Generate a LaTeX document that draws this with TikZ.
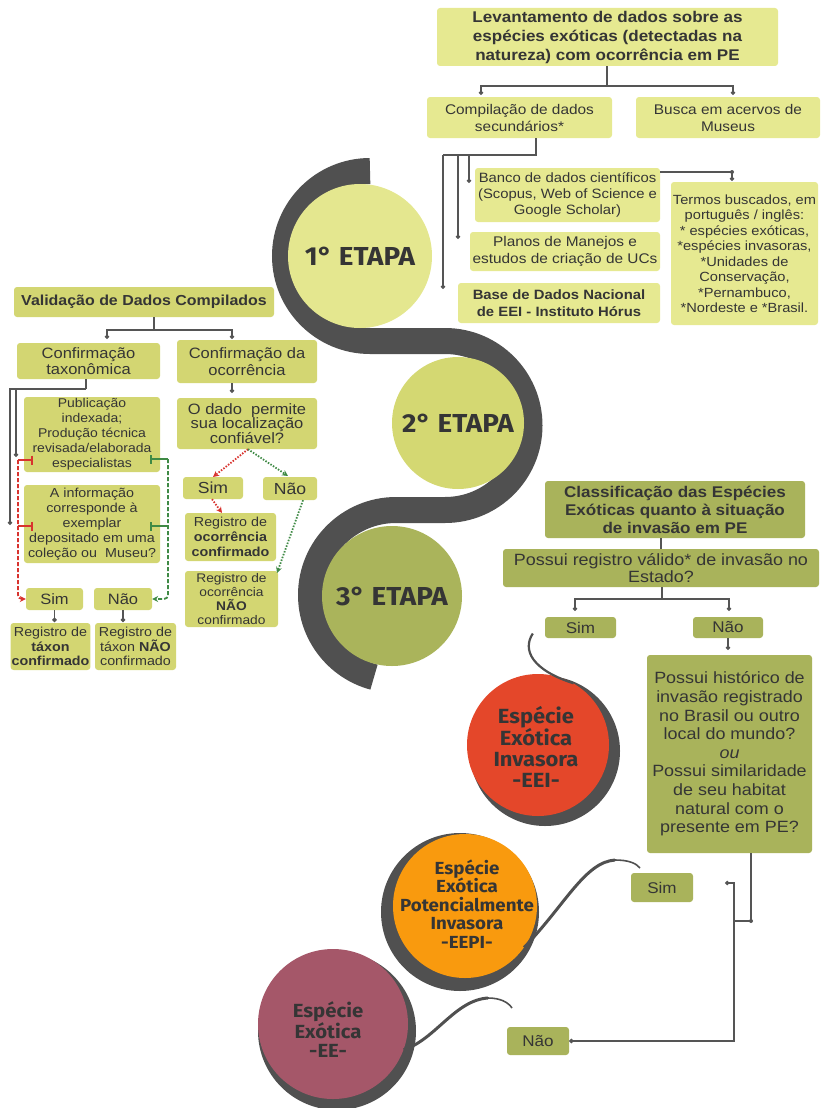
\documentclass[tikz,border=0pt]{standalone}
\usepackage{fontspec}
\setmainfont{Liberation Sans}[FakeStretch=1.1]
\newfontfamily\circfont{Fira Sans}[FakeStretch=1.07]
\usetikzlibrary{arrows.meta,calc}
\definecolor{cTop}{HTML}{E6E991}
\definecolor{cLeft}{HTML}{D3D672}
\definecolor{cRight}{HTML}{A9B35B}
\definecolor{bandc}{HTML}{505050}
\definecolor{txt}{HTML}{353535}
\definecolor{lnc}{HTML}{555555}
\definecolor{cred}{HTML}{D8332E}
\definecolor{cgreen}{HTML}{3F8A45}
\definecolor{cEEI}{HTML}{E4472A}
\definecolor{cEEPI}{HTML}{F99A0E}
\definecolor{cEE}{HTML}{A55769}
\definecolor{cA}{HTML}{E4E78F}
\definecolor{cB}{HTML}{D4D872}
\definecolor{cC}{HTML}{AAB45B}
\newcommand\fsz[2]{\fontsize{#1}{#2}\selectfont}
\newcommand\mybox[7]{%
\pgfmathsetmacro\bw{#4-#2}\pgfmathsetmacro\bh{#5-#3}%
\pgfmathsetmacro\bcx{(#2+#4)/2}\pgfmathsetmacro\bcy{(#3+#5)/2}%
\node[#6,minimum width=\bw pt,minimum height=\bh pt] (#1) at (\bcx,\bcy) {#7};}
\begin{document}
\begin{tikzpicture}[x=1pt,y=-1pt,
 box/.style={rounded corners=3pt, inner sep=1pt, align=center, text=txt, anchor=center},
 topb/.style={box, fill=cTop},
 lftb/.style={box, fill=cLeft},
 rgtb/.style={box, fill=cRight},
 conn/.style={draw=lnc, line width=1.1pt},
 dotend/.style={conn, -{Circle[length=4.5pt]}},
 redsolid/.style={draw=cred, line width=1.8pt, -{Bar[width=9pt]}},
 grnsolid/.style={draw=cgreen, line width=1.8pt, -{Bar[width=9pt]}},
 redl/.style={draw=cred, line width=1.8pt, dash pattern=on 4pt off 2pt, -{Stealth[length=6pt,width=6pt]}},
 grnl/.style={draw=cgreen, line width=1.8pt, dash pattern=on 4pt off 2pt, -{Stealth[length=6pt,width=6pt]}},
 redd/.style={draw=cred, line width=1.8pt, dash pattern=on 1.5pt off 1.5pt, -{Stealth[length=6pt,width=6pt]}},
 grnd/.style={draw=cgreen, line width=1.8pt, dash pattern=on 1.5pt off 1.5pt, -{Stealth[length=6pt,width=6pt]}},
 etapa/.style={circle, inner sep=0pt, text=txt, font=\circfont\bfseries\fsz{26}{28}},
 spc/.style={align=center, text=txt, font=\circfont\bfseries},
 thin/.style={draw=bandc, line width=2.2pt}
]
\useasboundingbox (0,0) rectangle (822,1108);

% serpentine band
\draw[bandc, line width=26pt] (370,171) arc[start angle=90, end angle=270, radius=85pt]
  -- (445,341) arc[start angle=90, end angle=-90, radius=84.5pt]
  -- (396,510) arc[start angle=90, end angle=255, radius=85pt];
\node[etapa, fill=cA, minimum size=144pt] (E1) at (360,256) {1° ETAPA};
\node[etapa, fill=cB, minimum size=132pt] (E2) at (458,423) {2° ETAPA};
\node[etapa, fill=cC, minimum size=140pt] (E3) at (392,596) {3° ETAPA};

% top boxes
\mybox{T0}{437}{8}{778}{66}{topb,font=\bfseries\fsz{15.5}{19}}{Levantamento de dados sobre as\\espécies exóticas (detectadas na\\natureza) com ocorrência em PE}
\mybox{T1}{427}{97}{612}{138}{topb,font=\fsz{14}{17}}{Compilação de dados\\secundários*}
\mybox{T2}{636}{97}{820}{138}{topb,font=\fsz{14}{17}}{Busca em acervos de\\Museus}
\mybox{T3}{475}{168}{660}{222}{topb,font=\fsz{13.5}{16}}{Banco de dados científicos\\(Scopus, Web of Science e\\Google Scholar)}
\mybox{T4}{470}{232}{660}{271}{topb,font=\fsz{14}{17}}{Planos de Manejos e\\estudos de criação de UCs}
\mybox{T5}{458}{283}{660}{323}{topb,font=\bfseries\fsz{13.5}{17}}{Base de Dados Nacional\\de EEI - Instituto Hórus}
\mybox{T6}{671}{182}{818}{325}{topb,font=\fsz{13.3}{15.5}}{Termos buscados, em\\português / inglês:\\* espécies exóticas,\\*espécies invasoras,\\*Unidades de\\Conservação,\\*Pernambuco,\\*Nordeste e *Brasil.}

% left boxes
\mybox{L0}{14}{287}{274}{317}{lftb,font=\bfseries\fsz{14.5}{17}}{Validação de Dados Compilados}
\mybox{L1}{17}{343}{160}{379}{lftb,font=\fsz{15}{16.5}}{Confirmação\\taxonômica}
\mybox{L2}{177}{340}{317}{383}{lftb,font=\fsz{15}{16.5}}{Confirmação da\\ocorrência}
\mybox{L3}{177}{398}{317}{449}{lftb,font=\fsz{15}{14.5}}{O dado\ \ permite\\sua localização\\confiável?}
\mybox{L4}{183}{477}{243}{499}{lftb,font=\fsz{16}{17}}{Sim}
\mybox{L5}{263}{477}{317}{500}{lftb,font=\fsz{16}{17}}{Não}
\mybox{L6}{185}{513}{276}{561}{lftb,font=\fsz{13}{15}}{Registro de\\\textbf{ocorrência}\\\textbf{confirmado}}
\mybox{L7}{185}{571}{278}{627}{lftb,font=\fsz{12.5}{14.3}}{Registro de\\ocorrência\\\textbf{NÃO}\\confirmado}
\mybox{L8}{24}{397}{160}{472}{lftb,font=\fsz{12.7}{15}}{Publicação\\indexada;\\Produção técnica\\revisada/elaborada\\especialistas}
\mybox{L9}{24}{485}{160}{563}{lftb,font=\fsz{13}{15}}{A informação\\corresponde à\\exemplar\\depositado em uma\\coleção ou\ \ Museu?}
\mybox{L10}{26}{588}{83}{610}{lftb,font=\fsz{15}{16}}{Sim}
\mybox{L11}{94}{588}{152}{610}{lftb,font=\fsz{15}{16}}{Não}
\mybox{L12}{12}{623}{89}{670}{lftb,font=\fsz{13}{14.5}}{Registro de\\\textbf{táxon}\\\textbf{confirmado}}
\mybox{L13}{95}{623}{176}{670}{lftb,font=\fsz{13}{14.5}}{Registro de\\táxon \textbf{NÃO}\\confirmado}

% right boxes
\mybox{R0}{545}{481}{805}{538}{rgtb,font=\bfseries\fsz{15.5}{18}}{Classificação das Espécies\\Exóticas quanto à situação\\de invasão em PE}
\mybox{R1}{503}{549}{819}{587}{rgtb,font=\fsz{16.3}{17}}{Possui registro válido* de invasão no\\Estado?}
\mybox{R2}{545}{617}{616}{638}{rgtb,font=\fsz{15.5}{16}}{Sim}
\mybox{R3}{693}{617}{763}{638}{rgtb,font=\fsz{15.5}{16}}{Não}
\mybox{R4}{647}{655}{812}{853}{rgtb,font=\fsz{16.3}{18.6}}{Possui histórico de\\invasão registrado\\no Brasil ou outro\\local do mundo?\\\textit{ou}\\Possui similaridade\\de seu habitat\\natural com o\\presente em PE?}
\mybox{R5}{631}{873}{693}{902}{rgtb,font=\fsz{15.5}{16}}{Sim}
\mybox{R6}{507}{1027}{569}{1055}{rgtb,font=\fsz{15.5}{16}}{Não}

% species circles
\fill[bandc] (545,751) circle[radius=75pt];
\node[circle, fill=cEEI, minimum size=142pt, inner sep=0pt] (EEI) at (538,745) {};
\node[spc, font=\circfont\bfseries\fsz{20.5}{21}] (EEIt) at (536,747) {Espécie\\Exótica\\Invasora\\-EEI-};
\draw[thin] (R2.west) ++(-12,6) coordinate (s1) .. controls (522,650) and (532,670) .. (EEI.60);

\fill[bandc] (460,912) circle[radius=79pt];
\node[circle, fill=cEEPI, minimum size=144pt, inner sep=0pt] (EEPI) at (465,906) {};
\node[spc, font=\circfont\bfseries\fsz{17.5}{18.5}] (EEPIt) at (467,904) {Espécie\\Exótica\\Potencialmente\\Invasora\\-EEPI-};
\draw[bandc, line width=3pt] (EEPI.-35) .. controls (565,905) and (585,862) .. (615,860);
\draw[bandc, line width=1.6pt] (615,860) .. controls (628,860) and (636,863) .. (640,868);

\fill[bandc] (337,1031) circle[radius=79pt];
\node[circle, fill=cEE, minimum size=150pt, inner sep=0pt] (EE) at (333,1024) {};
\node[spc, font=\circfont\bfseries\fsz{19}{19}] (EEt) at (328,1030) {Espécie\\Exótica\\-EE-};
\draw[bandc, line width=3pt] (EE.-20) .. controls (435,1040) and (455,1000) .. (488,998);
\draw[bandc, line width=1.6pt] (488,998) .. controls (500,998) and (508,1002) .. (512,1008);

% top connectors
\coordinate (j0) at (607,86);
\coordinate (d1) at (481,95);
\coordinate (d2) at (733,95);
\draw[conn] (T0.south -| j0) -- (j0);
\draw[dotend] (j0) -| (d1);
\draw[dotend] (j0) -| (d2);
\coordinate (c0) at (536,155);
\coordinate (c1) at (443,155);
\coordinate (d3) at (443,289);
\coordinate (d4) at (458,239);
\coordinate (d5) at (469,183);
\draw[conn] (T1.south -| c0) -- (c0) -- (c1);
\draw[dotend] (c1) -- (d3);
\draw[dotend] (c1 -| d4) -- (d4);
\draw[dotend] (c1 -| d5) -- (d5);
\coordinate (d6) at (732,172);
\coordinate (d7) at (732,181);
\draw[conn] (T3.east |- d6) -- (d6);
\fill[lnc] (d6) circle[radius=2pt];
\draw[dotend] (d6) -- (d7);

% left connectors
\coordinate (k0) at (154,330);
\coordinate (k1) at (107,339);
\coordinate (k2) at (232,339);
\draw[conn] (L0.south -| k0) -- (k0);
\draw[dotend] (k0) -| (k1);
\draw[dotend] (k0) -| (k2);
\coordinate (k3) at (232,393);
\draw[dotend] (L2.south -| k3) -- (k3);
\coordinate (k4) at (86,389);
\coordinate (k5) at (10,525);
\coordinate (k6) at (16,457);
\draw[conn] (L1.south -| k4) -- (k4);
\draw[dotend] (k4) -| (k5);
\draw[dotend] (k4) -| (k6);
% red / green validation
\coordinate (r1) at (18,460);
\coordinate (r2) at (18,526);
\coordinate (rb1) at (33,460);
\coordinate (rb2) at (33,526);
\draw[redsolid] (r1) -- (rb1);
\draw[redsolid] (r2) -- (rb2);
\draw[redl, rounded corners=4pt] (r1) |- (L10.west);
\coordinate (g1) at (168,459);
\coordinate (g2) at (168,526);
\coordinate (gb1) at (150,459);
\coordinate (gb2) at (150,526);
\draw[grnsolid] (g1) -- (gb1);
\draw[grnsolid] (g2) -- (gb2);
\draw[grnl, rounded corners=4pt] (g1) |- (L11.east);
\draw[dotend] (L10.south) -- ++(0,12) coordinate (k10);
\draw[dotend] (L11.south) -- ++(0,12) coordinate (k11);
% occurrence
\coordinate (k7) at (248,450);
\coordinate (k8) at (213,477);
\coordinate (k9) at (288,476);
\draw[redd] (L3.south -| k7) -- (k8);
\draw[grnd] (L3.south -| k7) -- (k9);
\coordinate (k12) at (212,500);
\coordinate (k13) at (222,513);
\draw[redd] (L4.south -| k12) -- (k13);
\coordinate (k14) at (303,500);
\coordinate (k15) at (277,573);
\draw[grnd] (L5.south -| k14) -- (k15);

% right connectors
\draw[conn] (R1.north |- R0.south) -- (R1.north);
\coordinate (m0) at (662,599);
\coordinate (m1) at (575,611);
\coordinate (m2) at (729,611);
\draw[conn] (R1.south -| m0) -- (m0);
\draw[dotend] (m0) -| (m1);
\draw[dotend] (m0) -| (m2);
\coordinate (m3) at (728,650);
\draw[dotend] (R3.south -| m3) -- (m3);
\coordinate (m4) at (751,921);
\coordinate (m5) at (734,921);
\coordinate (m6) at (725,883);
\draw[conn] (R4.south -| m4) -- (m4) -- (m5);
\fill[lnc] (m4) circle[radius=2pt];
\draw[dotend] (m5) |- (m6);
\draw[dotend] (m5) |- (R6.east);
\end{tikzpicture}
\end{document}
